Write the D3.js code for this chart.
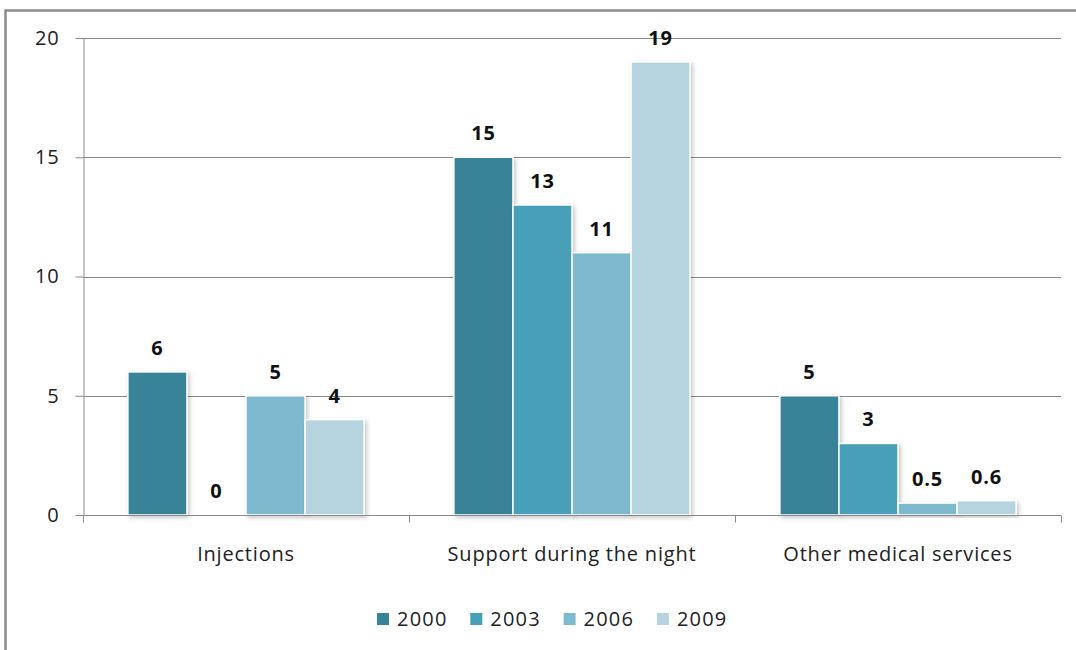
<!DOCTYPE html>
<html>
<head>
<meta charset="utf-8">
<script src="https://cdn.jsdelivr.net/npm/d3@7"></script>
<style>
  html, body { margin: 0; padding: 0; background: #fff; }
  svg { display: block; font-family: "Open Sans", "Noto Sans", sans-serif; }
</style>
</head>
<body>
<svg id="chart" width="1076" height="650"></svg>
<script>
// Survey categories and yearly series
const categories = ["Injections", "Support during the night", "Other medical services"];
const years = ["2000", "2003", "2006", "2009"];
const values2000 = [6, 15, 5];
const values2003 = [0, 13, 3];
const values2006 = [5, 11, 0.5];
const values2009 = [4, 19, 0.6];
const yTicks = [0, 5, 10, 15, 20];
const colors = ["#378397", "#46a0b8", "#7db9cf", "#b5d4df"];

const series = [values2000, values2003, values2006, values2009];

const svg = d3.select("#chart");
const W = 1076, H = 650;
const plot = { left: 83, right: 1061, top: 38, bottom: 515 };
const FONT = "'Open Sans', 'Noto Sans', sans-serif";

// Frame (top and left edges)
svg.append("path")
  .attr("d", `M5.5,${H} V10.5 H${W}`)
  .attr("fill", "none").attr("stroke", "#8c8c8c").attr("stroke-width", 2.5);

const defs = svg.append("defs");
const f = defs.append("filter").attr("id", "shadow")
  .attr("x", "-20%").attr("y", "-20%").attr("width", "140%").attr("height", "140%");
f.append("feDropShadow").attr("dx", 2).attr("dy", 2).attr("stdDeviation", 2)
  .attr("flood-color", "#000").attr("flood-opacity", 0.22);

const x0 = d3.scaleBand().domain(categories).range([plot.left, plot.right]).paddingInner(0).paddingOuter(0);
const x1 = d3.scaleBand().domain(years).range([0, x0.bandwidth()]).paddingOuter(0.76).paddingInner(0);
const y = d3.scaleLinear().domain([0, 20]).range([plot.bottom, plot.top]);

// Gridlines
svg.append("g").selectAll("line").data(yTicks.filter(t => t > 0)).join("line")
  .attr("x1", plot.left).attr("x2", plot.right)
  .attr("y1", d => Math.round(y(d)) + 0.5).attr("y2", d => Math.round(y(d)) + 0.5)
  .attr("stroke", "#8a8a8a").attr("stroke-width", 1);

// Y axis
const yAxis = svg.append("g").attr("transform", `translate(${plot.left + 0.5},0)`)
  .call(d3.axisLeft(y).tickValues(yTicks).tickSize(8).tickPadding(16).tickSizeOuter(0));
yAxis.select(".domain").attr("stroke", "#8a8a8a");
yAxis.selectAll(".tick line").attr("stroke", "#8a8a8a");
yAxis.selectAll("text").attr("font-size", 20).attr("fill", "#222")
  .attr("letter-spacing", 0.8).attr("font-family", FONT);

// Bars
const groups = svg.append("g").selectAll("g").data(categories).join("g")
  .attr("transform", d => `translate(${x0(d)},0)`);

groups.selectAll("rect")
  .data((c, ci) => years.map((yr, si) => ({ yr, si, v: series[si][ci] })))
  .join("rect")
  .attr("x", d => x1(d.yr))
  .attr("y", d => y(d.v))
  .attr("width", x1.bandwidth())
  .attr("height", d => y(0) - y(d.v))
  .attr("fill", d => colors[d.si])
  .attr("stroke", d => d.v > 0 ? "#fff" : "none")
  .attr("stroke-width", 1.5)
  .attr("filter", "url(#shadow)");

// Value labels
groups.selectAll("text")
  .data((c, ci) => years.map((yr, si) => ({ yr, si, v: series[si][ci] })))
  .join("text")
  .attr("x", d => x1(d.yr) + x1.bandwidth() / 2)
  .attr("y", d => y(d.v) - 17)
  .attr("text-anchor", "middle")
  .attr("font-size", 20).attr("font-weight", "bold").attr("fill", "#111")
  .attr("letter-spacing", 0.8)
  .text(d => d.v);

// X axis
const xAxis = svg.append("g").attr("transform", `translate(0,${plot.bottom + 0.5})`)
  .call(d3.axisBottom(x0).tickSize(0).tickPadding(31));
xAxis.select(".domain").remove();
xAxis.append("line").attr("x1", plot.left).attr("x2", plot.right).attr("stroke", "#8a8a8a");
xAxis.selectAll(".tick text").attr("font-size", 20).attr("fill", "#222")
  .attr("letter-spacing", 0.8).attr("font-family", FONT);
const bounds = [plot.left, ...categories.map(c => x0(c) + x0.bandwidth())];
xAxis.selectAll(".sep").data(bounds).join("line").attr("class", "sep")
  .attr("x1", d => Math.round(d) + 0.5).attr("x2", d => Math.round(d) + 0.5)
  .attr("y1", 0).attr("y2", 7).attr("stroke", "#8a8a8a");

// Legend
const legend = svg.append("g").attr("transform", "translate(377,613)");
const items = legend.selectAll("g").data(years).join("g")
  .attr("transform", (d, i) => `translate(${i * 93.3},0)`);
items.append("rect").attr("width", 12).attr("height", 12)
  .attr("fill", (d, i) => colors[i]);
items.append("text").attr("x", 20).attr("y", 13)
  .attr("font-size", 20).attr("fill", "#222").attr("letter-spacing", 1.2).text(d => d);
</script>
</body>
</html>
